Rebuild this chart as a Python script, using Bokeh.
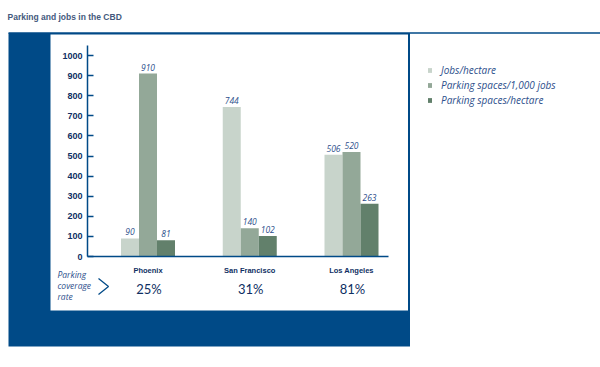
from bokeh.plotting import figure
from bokeh.models import (Range1d, LinearAxis, FixedTicker, ColumnDataSource,
                          Legend, LegendItem)
from bokeh.core.properties import value
from bokeh.transform import dodge
from bokeh.embed import file_html
from bokeh.resources import INLINE

# ---- data ----
cities = ["Phoenix", "San Francisco", "Los Angeles"]
series_names = ["Jobs/hectare", "Parking spaces/1,000 jobs", "Parking spaces/hectare"]
jobs_per_hectare = [90, 744, 506]
parking_per_1000_jobs = [910, 140, 520]
parking_per_hectare = [81, 102, 263]
coverage_rate = ["25%", "31%", "81%"]
y_ticks = [0, 100, 200, 300, 400, 500, 600, 700, 800, 900, 1000]

# ---- style ----
BLUE = "#004a87"
NAVY = "#0f2f63"
TXT = "#2d4f8c"
COLORS = ["#c8d4cb", "#93a898", "#62806b"]
COND = "Liberation Sans Narrow, Liberation Sans, Arial, sans-serif"
BODY = "Open Sans, Lato, sans-serif"

W, H = 600, 367
p = figure(width=W, height=H, x_range=Range1d(0, W), y_range=Range1d(H, 0),
           x_axis_type=None, y_axis_type=None, toolbar_location=None,
           output_backend="svg", min_border=0)
p.outline_line_color = None
p.background_fill_color = "white"
p.border_fill_color = "white"

# layout mapping for data ranges (pixels)
X0, XS = 147.5, 101.75        # centre of first group, px per category
Y0, YS = 256.0, 0.201         # baseline, px per unit
p.extra_x_ranges = {"cat": Range1d(-X0 / XS, (W - X0) / XS)}
p.extra_y_ranges = {"val": Range1d(-(H - Y0) / YS, Y0 / YS)}

# ---- frame decorations ----
p.quad(left=[8], right=[409.5], top=[32.5], bottom=[346], fill_color=BLUE, line_color=None)
p.quad(left=[50], right=[407.5], top=[34], bottom=[310], fill_color="white", line_color=None)
p.segment(x0=[8], y0=[32.5], x1=[W], y1=[32.5], line_color=BLUE, line_width=1.5)
p.text(x=[7], y=[16], text=["Parking and jobs in the CBD"], text_font=value(COND),
       text_font_style="bold", text_font_size="8.5px", text_color="#44597d",
       text_baseline="alphabetic", text_align="left")

# ---- bars ----
src = ColumnDataSource(dict(x=list(range(len(cities))), city=cities,
                            s0=jobs_per_hectare, s1=parking_per_1000_jobs, s2=parking_per_hectare,
                            t0=[str(v) for v in jobs_per_hectare],
                            t1=[str(v) for v in parking_per_1000_jobs],
                            t2=[str(v) for v in parking_per_hectare],
                            cov=coverage_rate))
bw = 18 / XS
renderers = []
for i, col in enumerate(["s0", "s1", "s2"]):
    off = (i - 1) * bw
    r = p.vbar(x=dodge("x", off), top=col, bottom=0, width=bw, source=src,
               fill_color=COLORS[i], line_color=None,
               x_range_name="cat", y_range_name="val")
    renderers.append(r)
    p.text(x=dodge("x", off), y=col, text="t%d" % i, source=src,
           x_range_name="cat", y_range_name="val", y_offset=-3,
           text_align="center", text_baseline="bottom", text_font=value(BODY),
           text_font_style="italic", text_font_size="8.5px", text_color=TXT)

# ---- axes ----
yax = LinearAxis(y_range_name="val", fixed_location=87, bounds=(0, 1050),
                 ticker=FixedTicker(ticks=y_ticks))
yax.axis_line_color = BLUE
yax.axis_line_width = 1.5
yax.major_tick_line_color = BLUE
yax.major_tick_line_width = 1.5
yax.major_tick_in = 6
yax.major_tick_out = 0
yax.minor_tick_line_color = None
yax.major_label_standoff = 5
yax.major_label_text_font = COND
yax.major_label_text_font_style = "bold"
yax.major_label_text_font_size = "9px"
yax.major_label_text_color = NAVY
p.add_layout(yax, "left")

xax = LinearAxis(x_range_name="cat", y_range_name="val", fixed_location=0,
                 bounds=((87 - X0) / XS, (388 - X0) / XS),
                 ticker=FixedTicker(ticks=list(range(len(cities)))),
                 major_label_overrides={i: c for i, c in enumerate(cities)})
xax.axis_line_color = BLUE
xax.axis_line_width = 1.5
xax.major_tick_line_color = None
xax.minor_tick_line_color = None
xax.major_tick_in = 0
xax.major_tick_out = 0
xax.major_label_standoff = 9
xax.major_label_text_font = COND
xax.major_label_text_font_style = "bold"
xax.major_label_text_font_size = "7.5px"
xax.major_label_text_color = NAVY
p.add_layout(xax, "below")

# ---- coverage row ----
p.text(x=[57, 57, 57], y=[274, 285, 295.7], text=["Parking", "coverage", "rate"],
       text_font=value(BODY), text_font_style="italic", text_font_size="8.5px",
       text_color=TXT, text_baseline="middle", text_align="left")
p.line(x=[98, 108, 98], y=[278, 286, 294], line_color=BLUE, line_width=1.3)
p.text(x=dodge("x", 0.01), y=0, text="cov", source=src, x_range_name="cat", y_range_name="val",
       y_offset=32, text_font=value("Lato, Open Sans, sans-serif"), text_font_size="13px",
       text_color=NAVY, text_baseline="middle", text_align="center")

# ---- legend ----
legend = Legend(items=[LegendItem(label=n, renderers=[r]) for n, r in zip(series_names, renderers)],
                location=(427, 260), padding=0, spacing=0, margin=0,
                glyph_width=5, glyph_height=6, label_height=15, label_standoff=9,
                label_text_font=BODY, label_text_font_style="italic",
                label_text_font_size="10px", label_text_color=TXT,
                background_fill_alpha=0, border_line_color=None)
p.add_layout(legend)

open("out.html", "w").write(file_html(p, INLINE))
